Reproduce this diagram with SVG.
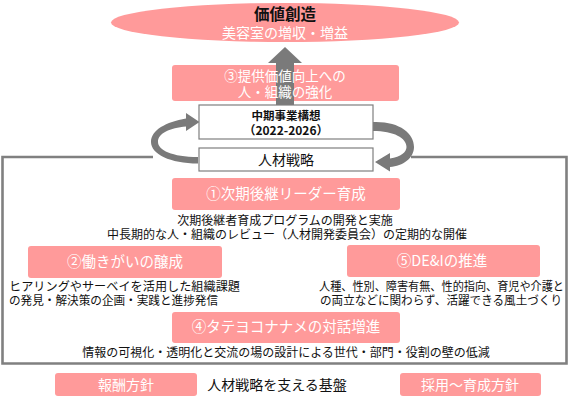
<svg xmlns="http://www.w3.org/2000/svg" width="576" height="401" viewBox="0 0 576 401">
<style>
text{font-family:"Noto Sans CJK JP","Noto Sans",sans-serif;}
.pink{fill:#FF9A9A;}
.wt{fill:#fff;font-size:14.5px;text-anchor:middle;}
.body{fill:#111;font-size:12px;}
.c{text-anchor:middle;}
.gbox{fill:#fff;stroke:#7f7f7f;stroke-width:1.2;}
.arr{fill:#7a7a7a;}
</style>
<rect width="576" height="401" fill="#fff"/>

<g id="frame">
<path d="M153,157 H2.5 V363.5 H566.5 V157 H411" fill="none" stroke="#808080" stroke-width="2.6"/>
</g>

<g id="value">
<ellipse cx="285" cy="22.5" rx="174" ry="19.5" class="pink"/>
<text x="285" y="20" class="c" style="font-size:15.5px;font-weight:bold;fill:#111">価値創造</text>
<text x="285" y="38" class="wt" style="font-size:14px">美容室の増収・増益</text>
</g>

<g id="strength3">
<rect x="172" y="65" width="227" height="36" rx="3" class="pink"/>
</g>

<g id="connectors">
<polygon class="arr" points="285,47 302,63 294,63 294,106 276,106 276,63 268,63"/>
<path class="arr" d="M198,163.5 C170,163.5 151,154 151,142 C151,130 166,122 186,118.5 L186,113 L199.5,122 L186,131 L186,126.5 C170,128 158,133 158,142 C158,150 172,157 198,157 Z"/>
<path class="arr" d="M373,122 C399,121 414,133 414,147 C414,158 403,166 390,167 L390,171.5 L375,162 L390,153 L390,158.5 C401,157 406.5,152 406.5,147 C406.5,138 394,131 373,131 Z"/>
</g>

<g id="strength3-label">
<text x="285" y="81" class="wt" style="font-size:13.5px">③提供価値向上への</text>
<text x="285" y="97" class="wt" style="font-size:13.5px">人・組織の強化</text>
</g>

<g id="plan">
<rect x="199" y="105" width="174" height="34" class="gbox"/>
<text x="286" y="120" class="c" style="font-size:11.5px;font-weight:bold;fill:#111">中期事業構想</text>
<text x="286" y="135" class="c" style="font-size:12px;font-weight:bold;fill:#111">（2022-2026）</text>
</g>

<g id="hr">
<rect x="199" y="148" width="174" height="23" class="gbox"/>
<text x="286" y="165" class="c" style="font-size:14px;fill:#111">人材戦略</text>
</g>

<g id="s1">
<rect x="172" y="178" width="228" height="32" rx="3" class="pink"/>
<text x="286" y="199" class="wt">①次期後継リーダー育成</text>
<text x="285" y="225" class="body c">次期後継者育成プログラムの開発と実施</text>
<text x="287" y="239" class="body c">中長期的な人・組織のレビュー（人材開発委員会）の定期的な開催</text>
</g>

<g id="s2">
<rect x="28" y="246" width="194" height="32" rx="3" class="pink"/>
<text x="125" y="267" class="wt">②働きがいの醸成</text>
<text x="9" y="291" class="body" textLength="231" lengthAdjust="spacingAndGlyphs">ヒアリングやサーベイを活用した組織課題</text>
<text x="9" y="305" class="body" textLength="209" lengthAdjust="spacingAndGlyphs">の発見・解決策の企画・実践と進捗発信</text>
</g>

<g id="s5">
<rect x="347" y="245" width="193" height="32" rx="3" class="pink"/>
<text x="442" y="266" class="wt">⑤DE&amp;Iの推進</text>
<text x="319" y="291" class="body" textLength="245" lengthAdjust="spacingAndGlyphs">人種、性別、障害有無、性的指向、育児や介護と</text>
<text x="320" y="305" class="body" textLength="242" lengthAdjust="spacingAndGlyphs">の両立などに関わらず、活躍できる風土づくり</text>
</g>

<g id="s4">
<rect x="172" y="312" width="228" height="31" rx="3" class="pink"/>
<text x="286" y="332" class="wt">④タテヨコナナメの対話増進</text>
<text x="286" y="357" class="body c">情報の可視化・透明化と交流の場の設計による世代・部門・役割の壁の低減</text>
</g>

<g id="reward">
<rect x="55" y="373" width="142" height="23" rx="3" class="pink"/>
<text x="126" y="389.5" class="wt" style="font-size:14px">報酬方針</text>
</g>

<g id="base">
<text x="277" y="390" class="c" style="font-size:14px;fill:#111">人材戦略を支える基盤</text>
</g>

<g id="hiring">
<rect x="400" y="373" width="141" height="23" rx="3" class="pink"/>
<text x="470" y="389.5" class="wt" style="font-size:14px">採用～育成方針</text>
</g>
</svg>
